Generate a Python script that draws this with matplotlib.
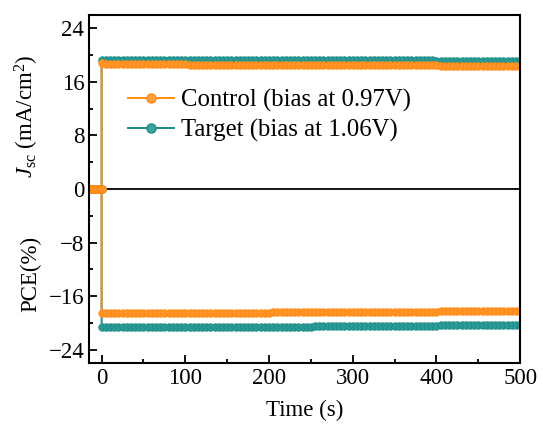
import numpy as np
import matplotlib
matplotlib.use("Agg")
import matplotlib.pyplot as plt
from matplotlib.ticker import MultipleLocator

plt.rcParams['font.family'] = ['Liberation Serif', 'DejaVu Serif']
plt.rcParams['mathtext.fontset'] = 'custom'
plt.rcParams['mathtext.rm'] = 'Liberation Serif'
plt.rcParams['mathtext.it'] = 'Liberation Serif:italic'

# Dark period before illumination (current and efficiency are zero)
pre_time = [-14, -12, -10, -8, -6, -4, -2, 0]
pre_values = [0, 0, 0, 0, 0, 0, 0, 0]

# Steady-state tracking, sampled every 5 s from 0 to 500 s
time_s = np.arange(0, 501, 5).tolist()

control_jsc = [
    18.8, 18.7, 18.7, 18.7, 18.7, 18.7, 18.7, 18.7, 18.7, 18.7,
    18.7, 18.7, 18.7, 18.7, 18.7, 18.7, 18.7, 18.7, 18.7, 18.7,
    18.7, 18.6, 18.6, 18.6, 18.6, 18.6, 18.6, 18.6, 18.6, 18.6,
    18.6, 18.6, 18.6, 18.6, 18.6, 18.6, 18.6, 18.6, 18.6, 18.6,
    18.6, 18.6, 18.6, 18.6, 18.6, 18.6, 18.6, 18.6, 18.6, 18.6,
    18.6, 18.5, 18.5, 18.5, 18.5, 18.5, 18.5, 18.5, 18.5, 18.5,
    18.5, 18.5, 18.5, 18.5, 18.5, 18.5, 18.5, 18.5, 18.5, 18.5,
    18.5, 18.5, 18.5, 18.5, 18.5, 18.5, 18.5, 18.5, 18.5, 18.5,
    18.5, 18.4, 18.4, 18.4, 18.4, 18.4, 18.4, 18.4, 18.4, 18.4,
    18.4, 18.4, 18.4, 18.4, 18.4, 18.4, 18.4, 18.4, 18.4, 18.4,
    18.4]
target_jsc = [
    19.3, 19.3, 19.3, 19.3, 19.3, 19.3, 19.3, 19.3, 19.3, 19.3,
    19.3, 19.3, 19.3, 19.3, 19.3, 19.3, 19.3, 19.3, 19.3, 19.3,
    19.3, 19.3, 19.3, 19.3, 19.3, 19.3, 19.3, 19.3, 19.3, 19.3,
    19.3, 19.3, 19.3, 19.3, 19.3, 19.3, 19.3, 19.3, 19.3, 19.3,
    19.3, 19.3, 19.3, 19.3, 19.3, 19.3, 19.3, 19.3, 19.3, 19.3,
    19.3, 19.3, 19.3, 19.3, 19.3, 19.3, 19.3, 19.3, 19.3, 19.3,
    19.3, 19.3, 19.3, 19.3, 19.3, 19.3, 19.3, 19.3, 19.3, 19.3,
    19.3, 19.3, 19.3, 19.3, 19.3, 19.3, 19.3, 19.3, 19.3, 19.3,
    19.2, 19.2, 19.2, 19.2, 19.2, 19.2, 19.2, 19.2, 19.2, 19.2,
    19.2, 19.2, 19.2, 19.2, 19.2, 19.2, 19.2, 19.2, 19.2, 19.2,
    19.2]
# PCE is drawn on the negative half of the shared axis
control_pce = [
    -18.5, -18.5, -18.5, -18.5, -18.5, -18.5, -18.5, -18.5, -18.5, -18.5,
    -18.5, -18.5, -18.5, -18.5, -18.5, -18.5, -18.5, -18.5, -18.5, -18.5,
    -18.5, -18.5, -18.5, -18.5, -18.5, -18.5, -18.5, -18.5, -18.5, -18.5,
    -18.5, -18.5, -18.5, -18.5, -18.5, -18.5, -18.5, -18.5, -18.5, -18.5,
    -18.5, -18.4, -18.4, -18.4, -18.4, -18.4, -18.4, -18.4, -18.4, -18.4,
    -18.4, -18.4, -18.4, -18.4, -18.4, -18.4, -18.4, -18.4, -18.4, -18.4,
    -18.4, -18.4, -18.4, -18.4, -18.4, -18.4, -18.4, -18.4, -18.4, -18.4,
    -18.4, -18.4, -18.4, -18.4, -18.4, -18.4, -18.4, -18.4, -18.4, -18.4,
    -18.4, -18.3, -18.3, -18.3, -18.3, -18.3, -18.3, -18.3, -18.3, -18.3,
    -18.3, -18.3, -18.3, -18.3, -18.3, -18.3, -18.3, -18.3, -18.3, -18.3,
    -18.3]
target_pce = [
    -20.6, -20.6, -20.6, -20.6, -20.6, -20.6, -20.6, -20.6, -20.6, -20.6,
    -20.6, -20.6, -20.6, -20.6, -20.6, -20.6, -20.6, -20.6, -20.6, -20.6,
    -20.6, -20.6, -20.6, -20.6, -20.6, -20.6, -20.6, -20.6, -20.6, -20.6,
    -20.6, -20.6, -20.6, -20.6, -20.6, -20.6, -20.6, -20.6, -20.6, -20.6,
    -20.6, -20.6, -20.6, -20.6, -20.6, -20.6, -20.6, -20.6, -20.6, -20.6,
    -20.6, -20.5, -20.5, -20.5, -20.5, -20.5, -20.5, -20.5, -20.5, -20.5,
    -20.5, -20.5, -20.5, -20.5, -20.5, -20.5, -20.5, -20.5, -20.5, -20.5,
    -20.5, -20.5, -20.5, -20.5, -20.5, -20.5, -20.5, -20.5, -20.5, -20.5,
    -20.5, -20.4, -20.4, -20.4, -20.4, -20.4, -20.4, -20.4, -20.4, -20.4,
    -20.4, -20.4, -20.4, -20.4, -20.4, -20.4, -20.4, -20.4, -20.4, -20.4,
    -20.4]

labels = ["Control (bias at 0.97V)", "Target (bias at 1.06V)"]
xticks = [0, 100, 200, 300, 400, 500]
yticks = [-24, -16, -8, 0, 8, 16, 24]

orange = '#FF8A14'
teal = '#1F8B88'

fig = plt.figure(figsize=(5.43, 4.32), dpi=100)
ax = fig.add_axes([0.164, 0.160, 0.794, 0.805])

style = dict(marker='o', markersize=5.4, linewidth=1.4, markeredgewidth=0.6)

# Target series first so the control series sits on top
for vals in (target_jsc, target_pce):
    ax.plot(pre_time + time_s, pre_values + vals, color=teal,
            markerfacecolor='#2A9A96', markeredgecolor=teal, **style)
for vals in (control_jsc, control_pce):
    ax.plot(pre_time + time_s, pre_values + vals, color=orange,
            markerfacecolor='#FF9428', markeredgecolor=orange, **style)

ax.axhline(0, color='black', linewidth=1.3, zorder=1)

# Legend proxies
h1, = ax.plot([], [], color=orange, marker='o', markersize=6.5, linewidth=1.4,
              markerfacecolor='#FFA040', markeredgecolor=orange)
h2, = ax.plot([], [], color=teal, marker='o', markersize=6.5, linewidth=1.4,
              markerfacecolor='#3AA5A0', markeredgecolor=teal)
ax.legend([h1, h2], labels, loc='upper left', bbox_to_anchor=(0.068, 0.815),
          frameon=False, fontsize=17.8, handlelength=1.85, handletextpad=0.3,
          labelspacing=0.25, borderaxespad=0)

ax.set_xlim(-15, 500)
ax.set_ylim(-26, 26)
ax.set_xticks(xticks)
ax.set_yticks(yticks)
ax.set_yticklabels([f"{v}".replace('-', '\u2212') for v in yticks])
ax.xaxis.set_minor_locator(MultipleLocator(50))
ax.yaxis.set_minor_locator(MultipleLocator(4))
ax.tick_params(which='both', direction='in', labelsize=16.5, width=1.3)
ax.tick_params(which='major', length=6)
ax.tick_params(which='minor', length=3)
for sp in ax.spines.values():
    sp.set_linewidth(1.5)

ax.set_xlabel("Time (s)", fontsize=16.5, labelpad=8)
fig.text(0.050, 0.73, r"$J_{\rm sc}$ (mA/cm$^2$)", rotation=90, fontsize=16.5,
         ha='center', va='center')
fig.text(0.056, 0.365, "PCE(%)", rotation=90, fontsize=16.5,
         ha='center', va='center')

fig.savefig("out.png", dpi=100)
